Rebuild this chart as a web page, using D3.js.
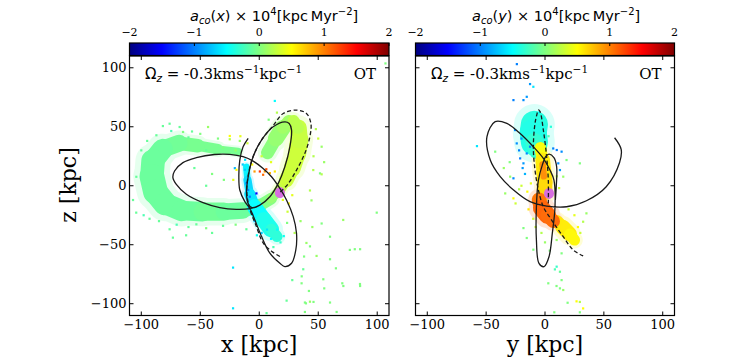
<!DOCTYPE html>
<html>
<head>
<meta charset="utf-8">
<script src="https://cdn.jsdelivr.net/npm/d3@7"></script>
<style>
  body { margin: 0; background: #fff; }
  svg text { font-family: "DejaVu Serif", serif; fill: #000; }
  .math { font-family: "DejaVu Sans", sans-serif; }
</style>
</head>
<body>
<svg id="chart" width="754" height="360"></svg>
<script>
// ---- data ----
const axisTicks = [-100, -50, 0, 50, 100];
const cbarTicks = [-2, -1, 0, 1, 2];
const jetStops = [-2, -1.5, -0.5, 0.5, 1.5, 2];
const jetColors = ["#00007f", "#0000ff", "#00ffff", "#ffff00", "#ff0000", "#7f0000"];

// dense parts of the stream: [pos, z, spread(kpc), a_co]
const cBandXZ = [[-18,29,5,-0.05],[-35,31,8,-0.05],[-52,34,10,-0.05],[-68,36,13,-0.05],[-82,31,16,-0.1],[-90,21,19,-0.1],
  [-91,8,21,-0.1],[-88,-5,21,-0.1],[-80,-15,19,-0.1],[-66,-21,17,-0.1],[-48,-22,16,-0.1],[-30,-22,15,-0.05],
  [-14,-21,13,-0.15],[0,-17,11,-0.05],[10,-11,9,0.05],[16,-5,7,0.1]];
const cyanTailXZ = [[-11,16,5,-0.45],[-10,5,6,-0.65],[-8,-7,8,-0.65],[-4,-18,11,-0.55],[4,-29,15,-0.45],[10,-37,12,-0.4],[15,-43,7,-0.3]];
const armXZ = [[17,-4,7,0.2],[23,5,11,0.3],[28,15,14,0.3],[32,27,15,0.3],[34,39,16,0.3],[33,49,13,0.25],[29,55,7,0.2]];
const armInnerXZ = [[7,28,8,0.0],[14,40,14,0.05],[20,49,13,0.1],[25,55,7,0.15]];

const topBlobYZ = [[-9,52,20,-0.35],[-10,45,26,-0.4],[-9,37,20,-0.4],[-6,30,11,-0.25]];
const midYZ = [[-4,32,8,0.4],[-2,22,12,0.55],[-1,12,13,0.6],[0,3,13,0.6],[0,-6,12,0.7]];
const coreYZ = [[-2,18,5,0.9],[-1,8,6,1.0]];
const lowYZ = [[-5,-12,10,1.0],[-3,-19,15,1.1],[2,-25,14,1.15],[7,-30,9,1.05]];
const tailYZ = [[10,-30,8,0.6],[15,-35,13,0.6],[21,-41,12,0.55],[25,-46,7,0.5]];

// sparse particles: [pos, z, a_co]
const starsXZ = [[-76,52.6,-0.1],[-67.5,49.8,-0.1],[-64.6,45.6,0],[-43.4,49.8,0.1],[-87.2,42.8,-0.1],[-81.7,50.6,-0.1],
  [-74.6,46.4,-0.2],[-57,46,-0.1],[-50,44,0],[-60,41,-0.1],[-95,38,-0.1],[-100,30,-0.1],[-104.2,7.6,-0.1],
  [-107,-12.1,-0.1],[-104.3,-22.8,-0.1],[-98,-25,-0.2],[-93,-28,-0.1],[-85,-30,-0.1],[-76,-36.9,-0.1],[-70,-33,-0.2],
  [-60,-35,-0.1],[-53.3,-32.7,-0.1],[-45,-36,0],[-30.7,-34,-0.1],[-20,-33,0],[-10.9,-36.9,-0.1],[-73.2,-44,-0.1],
  [-40,-40,-0.1],[-62,-42,-0.1],[-25,39.4,0.2],[-30.7,32.3,0],[-16.5,38,0.1],[-25,42.2,0.5],[-16,42,0.4],[-35,40,0],
  [-10,36,0.3],[-20,30,0.1],[-45,30,-0.1],[-55,15,-0.1],[-40,10,0],[-30,5,0],[-45,0,-0.1],
  [0.5,12.1,1.3],[3.3,9.3,1.1],[4.7,12.1,0.9],[9,10.7,0.8],[13.2,12.1,0.6],[-4,12.1,0.9],[6,14,1.2],
  [-2.4,-6.5,-1.5],[-10.8,2.1,-1.0],[-9.4,-3.6,-0.95],[-8,-9.3,-1.0],[-12.2,13.5,-0.7],[-20.7,14.9,-0.8],[-14,18,-0.7],
  [-12,22,-0.6],[-6,-24,-0.9],[-4,-30,-0.8],[-19.3,13.5,0.5],[-22,5,0.4],[-6,18,0.5],[10,20,0.4],[2,25,0.3],[20,-12,0.4],
  [25,-15,0.5],[28,-8,0.4],[24,-22,0.3],[6.6,-37.2,-0.6],[15.2,-37.2,-0.5],[20.8,-42.7,-0.45],[2,-40,-0.7],[10,-45,-0.5],
  [-2,-42,-0.45],[18,-48,-0.3],[12,-52,-0.2],[23.6,-31.5,0],[52.9,33.1,0.1],[45.8,13.3,0.2],[51.5,10.5,0],[43,-4,0.2],
  [44.3,-12.4,0.1],[52.9,-32,0],[60,-43.2,0],[71.2,-29,0.1],[76.8,-54.4,0],[81,-53.8,0],[40,-48.5,0.1],[43,-51.4,0],
  [36,-76.8,0],[37.3,-70.8,-0.1],[60,-62.3,0],[48.6,-59.5,0.1],[71.3,-85,0],[85.5,-85,0],[60,-99,0],[38.7,-99,0],
  [54.3,-79.3,0],[85.5,-53.8,0],[99.6,-22.8,0],[52.9,9.7,0.2],[-22.2,-103.9,-0.6],[6.2,-108,-0.1],[23.2,-97.4,-0.1],
  [35.9,-82.7,0],[39.6,-99.7,0],[43,-98.3,0.1],[46,-98.5,0],[42.1,-89.2,0],[55.1,-87,0],[38.7,-107,0],[65.6,-107,0],
  [70.4,-82.7,0],[85.4,-83.3,0],[13.2,71.9,-0.5],[107,103.7,0],[-22.2,-69.4,-0.6],[48,48,0.2],[50,40,0.3],[46,25,0.2],
  [55,20,0.1],[35,-30,0.1],[30,-40,0.2],[45,-35,0.1],[38,-60,0],[28,-80,-0.1],[65,-70,0],[15,62,0.2],[8,56,0]];
const starsYZ = [[-12.7,86.2,-0.9],[-9.9,83.9,-0.6],[-26.8,72.6,-1.0],[-18.3,72.6,-0.95],[-15.5,75.4,-0.9],[-23.9,103.1,-1.0],
  [-57.8,33.6,-0.6],[-42.3,28.9,0],[10,30.3,-1.0],[14.1,28.9,-0.95],[18.3,21.8,0],[15.5,7.7,0.1],[29.6,19,0],
  [-29.6,7.7,0.1],[-33.8,-6.5,0.1],[-26.8,-10.7,0.5],[-18.3,-35.9,0],[-15.5,-44.3,0],[-9.9,-54.2,0],[9.9,-46,0.1],
  [14.1,-57.3,0],[9.9,-68.6,-0.3],[12.7,-72.9,-0.1],[32.4,-30.5,0.2],[35.2,-23.4,0.1],[8.4,-70.9,-0.2],[2.8,-82.7,0],
  [9.8,-85,0],[14.1,-80,0],[12.7,-87,0],[15.5,-88.4,0.1],[19.2,-99.2,0],[26.8,-98,0.5],[29.6,-98.5,0.2],[32.4,-104,0.5],
  [7.9,-107.3,0],[29.6,-107.3,0],[-25.4,47.2,-0.95],[-24,35.9,-0.95],[-21.1,23.2,-1.0],[-18.3,19,-0.9],[-26.8,6.3,-0.95],
  [7,31.6,-1.0],[11.3,19,-0.95],[12.7,13.3,-0.9],[-12.7,33.1,-1.0],[-15.5,27.4,-0.95],[-20,40,-0.9],[-22,30,-1.0],
  [-17,10,-0.8],[-19,15,-0.9],[-20,0,0.3],[-15,-5,0.5],[-12,2,0.4],[-22,-3,0.2],[-10,-28,0.3],[-14,-20,0.6],
  [-8,-35,0.3],[-3,-40,0.2],[0,-48,0.1],[4,-55,0],[20,-20,0.3],[25,-25,0.4],[28,-35,0.5],[30,-40,0.3],[-5,62,-0.5],
  [-2,58,-0.4],[5,50,-0.35],[3,42,-0.2],[10,8,0.2],[12,-2,0.3],[-30,20,0],[-35,15,0.1],[-25,-15,0.3]];

// orbits: [pos, z]
const orbitSolidXZ = [[-9.4,40.2],[-13.7,33],[-16.5,21.8],[-17.3,7.6],[-16.5,-3.6],[-12.2,-13.5],[-8,-19.2],[-3.7,-29],
  [2,-43.1],[9,-57.2],[17.5,-65.7],[21.7,-68.5],[27.4,-65.7],[31,-54.4],[31.6,-40.3],[28.8,-26.2],[23.1,-12.1],
  [17.5,-2.3],[10.4,7.6],[3.3,14.6],[-5.2,20.9],[-13.7,24.6],[-25,26.6],[-38,26.5],[-53.3,23.8],[-64.7,19.6],
  [-71.8,12.5],[-73.2,6.9],[-70.3,1.2],[-61.8,-7.2],[-47.7,-14.3],[-33.5,-18.5],[-19.4,-20],[-8,-19.4],[0.5,-16.4],
  [9,-9.3],[16.1,2],[21.7,16.1],[26,33.1],[27.4,47.2],[25.4,52.8],[21.7,54.2],[11.8,50],[1.9,38.7],[-5.2,24.6],
  [-9.4,7.6],[-10.8,-6.5],[-9.4,-15],[-6.6,-18.4],[-2,-18]];
const orbitDashXZ = [[17.5,-60],[10.4,-55.5],[3.3,-48.5],[-3,-33],[-8,-20],[-10.5,-6],[-9.5,8],[-5.5,24],[1.9,38.7],
  [11.8,51],[20.3,61.3],[31.6,64.1],[40,61.3],[43.8,52.8],[42.9,41.5],[38.6,27.4],[31.6,13.3],[24,1],[17,-6]];
const orbitSolidYZ = [[59.1,40.7],[64.7,30.8],[63.3,19.5],[52,-0.8],[35.2,-12.7],[18.3,-17.8],[1.4,-17.2],[-12.7,-13.5],
  [-26.7,-3.6],[-38,7.7],[-46.5,21.8],[-49.3,41.6],[-42.3,54.3],[-32.4,52.8],[-21.1,44.3],[-9.9,33.1],[-1.4,23.2],
  [4.2,13.3],[7.6,4.8],[8.5,-17.8],[6.2,-40.4],[3.4,-60.2],[-0.8,-68.6],[-5.1,-65.8],[-7.3,-46],[-7.3,-17.8],
  [-5.6,4.8],[-2.3,17.5],[0.6,24.6],[3.4,26.8],[7.6,23.9],[9.9,16],[9.6,0],[8.8,-12]];
const orbitDashYZ = [[2.8,-15],[2.8,4.8],[1.4,24.6],[-1.4,47.2],[-4.2,62.8],[-5.6,64.2],[-7,60],[-8.5,52.8],[-9.9,33.1],
  [-8.5,13.3],[-5.6,-3.6],[-1.4,-17.8],[5.6,-29.1],[15.5,-43.2],[24,-54.5],[32.4,-59.5]];

const satXZ = [17.5, -5.8];
const satYZ = [3.4, -6.5];

// ---- drawing ----
const svg = d3.select("#chart");
const jet = d3.scaleLinear().domain(jetStops).range(jetColors).clamp(true);

const panels = [
  { x0: 129.5, x1: 389, comp: "x", label: "x [kpc]", yLabels: true,
    ribbons: [cBandXZ, cyanTailXZ, armInnerXZ, armXZ], stars: starsXZ,
    solid: orbitSolidXZ, dashed: orbitDashXZ, sat: satXZ },
  { x0: 415.5, x1: 674.5, comp: "y", label: "y [kpc]", yLabels: false,
    ribbons: [topBlobYZ, midYZ, tailYZ, lowYZ, coreYZ], stars: starsYZ,
    solid: orbitSolidYZ, dashed: orbitDashYZ, sat: satYZ }
];
const plotTop = 56, plotBottom = 315.5;

panels.forEach((p, pi) => {
  const xs = d3.scaleLinear().domain([-110, 110]).range([p.x0, p.x1]);
  const zs = d3.scaleLinear().domain([-110, 110]).range([plotBottom, plotTop]);
  const k = xs(1) - xs(0);
  const g = svg.append("g");

  const clipId = "clip" + pi;
  svg.append("clipPath").attr("id", clipId).append("rect")
    .attr("x", p.x0).attr("y", plotTop).attr("width", p.x1 - p.x0).attr("height", plotBottom - plotTop);
  const plot = g.append("g").attr("clip-path", `url(#${clipId})`);

  // stream: faint halo then dense core
  [[1.5, 0.16], [1.0, 0.95]].forEach(([wf, op]) => {
    const layer = plot.append("g").attr("opacity", op);
    p.ribbons.forEach(r => {
      for (let i = 0; i < r.length - 1; i++) {
        const a = r[i], b = r[i + 1];
        layer.append("line")
          .attr("x1", xs(a[0])).attr("y1", zs(a[1]))
          .attr("x2", xs(b[0])).attr("y2", zs(b[1]))
          .attr("stroke", jet((a[3] + b[3]) / 2))
          .attr("stroke-width", (a[2] + b[2]) / 2 * k * wf)
          .attr("stroke-linecap", "round");
      }
    });
  });

  plot.append("g").selectAll("rect").data(p.stars).enter().append("rect")
    .attr("x", d => xs(d[0]) - 1.1).attr("y", d => zs(d[1]) - 1.1)
    .attr("width", 2.2).attr("height", 2.2)
    .attr("fill", d => jet(d[2]));

  plot.append("ellipse")
    .attr("cx", xs(p.sat[0])).attr("cy", zs(p.sat[1]))
    .attr("rx", 5).attr("ry", 5.5)
    .attr("fill", "#d76ee0");

  const line = d3.line().x(d => xs(d[0])).y(d => zs(d[1])).curve(d3.curveCatmullRom);
  plot.append("path").attr("d", line(p.solid))
    .attr("fill", "none").attr("stroke", "#1a1a1a").attr("stroke-width", 1.3);
  plot.append("path").attr("d", line(p.dashed))
    .attr("fill", "none").attr("stroke", "#1a1a1a").attr("stroke-width", 1.3)
    .attr("stroke-dasharray", "4,2.5");

  // frame and inward ticks
  g.append("rect").attr("x", p.x0).attr("y", plotTop)
    .attr("width", p.x1 - p.x0).attr("height", plotBottom - plotTop)
    .attr("fill", "none").attr("stroke", "#000").attr("stroke-width", 1.2);
  axisTicks.forEach(t => {
    g.append("line").attr("x1", xs(t)).attr("x2", xs(t)).attr("y1", plotBottom).attr("y2", plotBottom - 4).attr("stroke", "#000");
    g.append("line").attr("x1", xs(t)).attr("x2", xs(t)).attr("y1", plotTop).attr("y2", plotTop + 4).attr("stroke", "#000");
    g.append("line").attr("y1", zs(t)).attr("y2", zs(t)).attr("x1", p.x0).attr("x2", p.x0 + 4).attr("stroke", "#000");
    g.append("line").attr("y1", zs(t)).attr("y2", zs(t)).attr("x1", p.x1).attr("x2", p.x1 - 4).attr("stroke", "#000");
    g.append("text").attr("x", xs(t)).attr("y", 329).attr("text-anchor", "middle")
      .attr("font-size", 13).text(String(t).replace("-", "\u2212"));
    if (p.yLabels) {
      g.append("text").attr("x", p.x0 - 3).attr("y", zs(t) + 4.7).attr("text-anchor", "end")
        .attr("font-size", 13).text(String(t).replace("-", "\u2212"));
    }
  });

  g.append("text").attr("x", (p.x0 + p.x1) / 2).attr("y", 352).attr("text-anchor", "middle")
    .attr("font-size", 22).text(p.label);

  // annotation
  const om = g.append("text").attr("x", p.x0 + 15.5).attr("y", 79.3).attr("font-size", 15);
  om.append("tspan").attr("class", "math").text("\u03A9");
  om.append("tspan").attr("class", "math").attr("font-style", "italic").attr("font-size", 10.5).attr("dy", 3).text("z");
  om.append("tspan").attr("dy", -3).text(" = -0.3kms");
  om.append("tspan").attr("font-size", 10.5).attr("dy", -6).text("\u22121");
  om.append("tspan").attr("dy", 6).text("kpc");
  om.append("tspan").attr("font-size", 10.5).attr("dy", -6).text("\u22121");
  g.append("text").attr("x", p.x1 - 13).attr("y", 79.3).attr("text-anchor", "end")
    .attr("font-size", 15).text("OT");

  // colorbar
  const cs = d3.scaleLinear().domain([-2, 2]).range([p.x0, p.x1]);
  const gradId = "jet" + pi;
  const grad = svg.append("defs").append("linearGradient").attr("id", gradId)
    .attr("x1", "0%").attr("x2", "100%");
  jetStops.forEach((s, i) => grad.append("stop")
    .attr("offset", ((s + 2) / 4 * 100) + "%").attr("stop-color", jetColors[i]));
  g.append("rect").attr("x", p.x0).attr("y", 43).attr("width", p.x1 - p.x0).attr("height", 12.5)
    .attr("fill", `url(#${gradId})`).attr("stroke", "#000").attr("stroke-width", 1.2);
  cbarTicks.forEach(t => {
    g.append("line").attr("x1", cs(t)).attr("x2", cs(t)).attr("y1", 43).attr("y2", 46).attr("stroke", "#000");
    g.append("text").attr("x", cs(t)).attr("y", 36).attr("text-anchor", "middle")
      .attr("font-size", 11).text(String(t).replace("-", "\u2212"));
  });
  const cl = g.append("text").attr("class", "math").attr("x", p.x0 + (pi === 0 ? 60.5 : 56.5)).attr("y", 20.7)
    .attr("font-size", 14.5);
  cl.append("tspan").attr("font-style", "italic").text("a");
  cl.append("tspan").attr("font-style", "italic").attr("font-size", 10).attr("dy", 3).text("co");
  cl.append("tspan").attr("dy", -3).text("(");
  cl.append("tspan").attr("font-style", "italic").text(p.comp);
  cl.append("tspan").text(") \u00D7 10");
  cl.append("tspan").attr("font-size", 10).attr("dy", -6).text("4");
  cl.append("tspan").attr("dy", 6).text("[kpc\u2009Myr");
  cl.append("tspan").attr("font-size", 10).attr("dy", -6).text("\u22122");
  cl.append("tspan").attr("dy", 6).text("]");
});

svg.append("text").attr("transform", "translate(76,185) rotate(-90)")
  .attr("text-anchor", "middle").attr("font-size", 22).text("z [kpc]");
</script>
</body>
</html>
